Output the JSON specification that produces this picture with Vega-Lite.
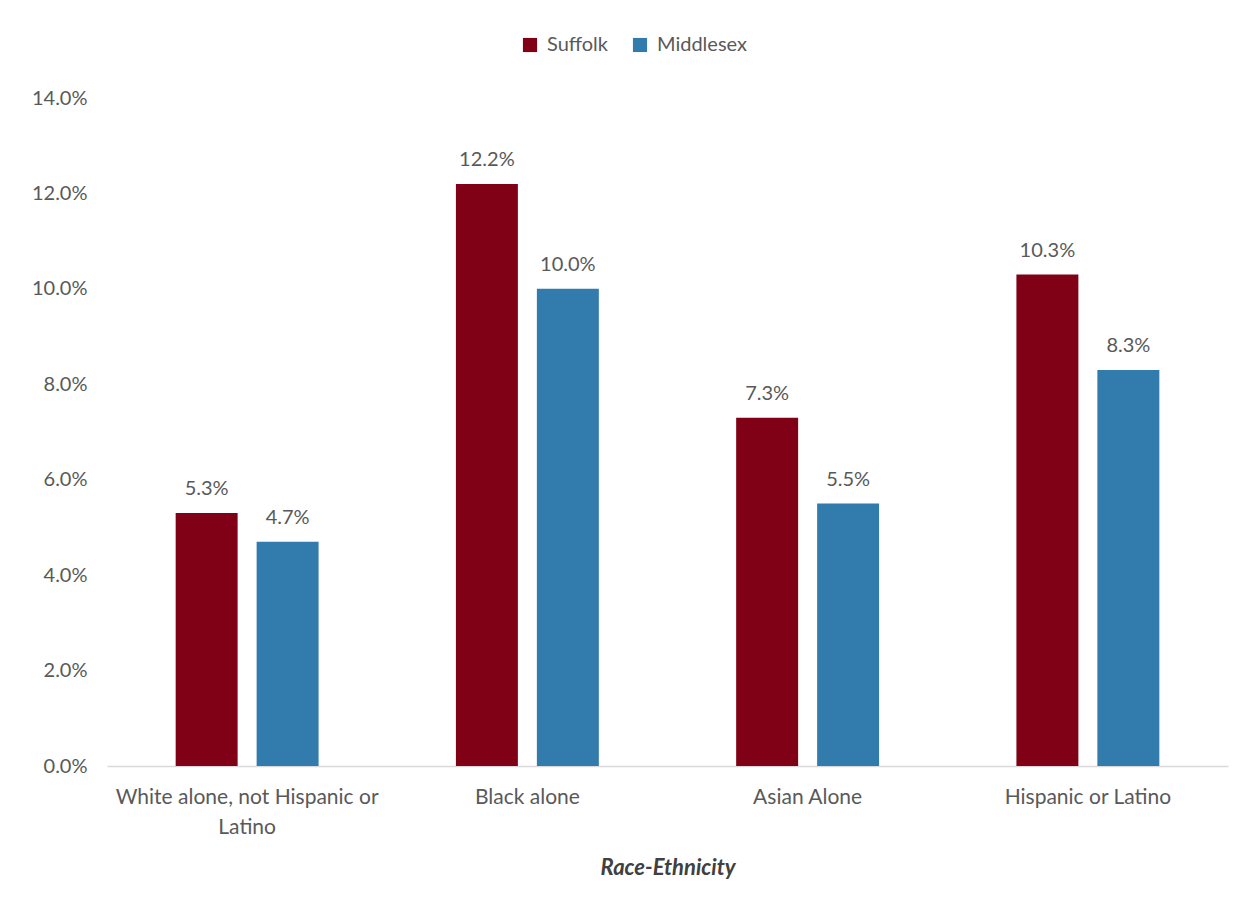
{
  "$schema": "https://vega.github.io/schema/vega-lite/v6.json",
  "width": 1121,
  "height": 668,
  "autosize": "none",
  "padding": {"left": 107, "top": 98, "right": 25, "bottom": 143},
  "background": "white",
  "config": {
    "font": "Lato",
    "view": {"stroke": null},
    "axis": {"labelFont": "Lato", "labelColor": "#595959", "labelFontSize": 20, "titleFont": "Lato"}
  },
  "data": {
    "values": [
      {"race": "White alone, not Hispanic or Latino", "county": "Suffolk", "value": 0.053},
      {"race": "White alone, not Hispanic or Latino", "county": "Middlesex", "value": 0.047},
      {"race": "Black alone", "county": "Suffolk", "value": 0.122},
      {"race": "Black alone", "county": "Middlesex", "value": 0.100},
      {"race": "Asian Alone", "county": "Suffolk", "value": 0.073},
      {"race": "Asian Alone", "county": "Middlesex", "value": 0.055},
      {"race": "Hispanic or Latino", "county": "Suffolk", "value": 0.103},
      {"race": "Hispanic or Latino", "county": "Middlesex", "value": 0.083}
    ]
  },
  "encoding": {
    "x": {
      "field": "race", "type": "nominal",
      "sort": ["White alone, not Hispanic or Latino", "Black alone", "Asian Alone", "Hispanic or Latino"],
      "scale": {"paddingInner": 0.49, "paddingOuter": 0.245},
      "axis": {
        "labelAngle": 0, "ticks": false, "domainColor": "#d9d9d9", "domainWidth": 1.5,
        "labelPadding": 20, "labelLineHeight": 30, "labelLimit": 0, "labelFontSize": 21,
        "labelExpr": "datum.label == 'White alone, not Hispanic or Latino' ? ['White alone, not Hispanic or', 'Latino'] : datum.label",
        "title": "Race-Ethnicity", "titleFontSize": 22, "titleFontWeight": "bold", "titleFontStyle": "italic",
        "titleColor": "#404040", "titlePadding": 20
      }
    },
    "xOffset": {
      "field": "county", "type": "nominal", "sort": ["Suffolk", "Middlesex"],
      "scale": {"paddingInner": 0.2346, "paddingOuter": 0}
    },
    "y": {
      "field": "value", "type": "quantitative",
      "scale": {"domain": [0, 0.14]},
      "axis": {
        "values": [0, 0.02, 0.04, 0.06, 0.08, 0.1, 0.12, 0.14], "format": ".1%",
        "grid": false, "domain": false, "ticks": false, "labelPadding": 20, "title": null
      }
    }
  },
  "layer": [
    {
      "mark": {"type": "bar"},
      "encoding": {
        "color": {
          "field": "county", "type": "nominal", "sort": ["Suffolk", "Middlesex"],
          "scale": {"domain": ["Suffolk", "Middlesex"], "range": ["#800016", "#327BAD"]},
          "legend": {
            "orient": "none", "legendX": 413, "legendY": -63, "direction": "horizontal",
            "title": null, "symbolType": "square", "symbolSize": 200, "symbolStrokeWidth": 0,
            "labelFontSize": 20, "labelColor": "#595959", "labelFont": "Lato", "columnPadding": 22, "labelOffset": 7
          }
        }
      }
    },
    {
      "mark": {"type": "text", "baseline": "bottom", "dy": -14, "fontSize": 20, "color": "#595959", "font": "Lato"},
      "encoding": {
        "text": {"field": "value", "type": "quantitative", "format": ".1%"}
      }
    }
  ]
}
